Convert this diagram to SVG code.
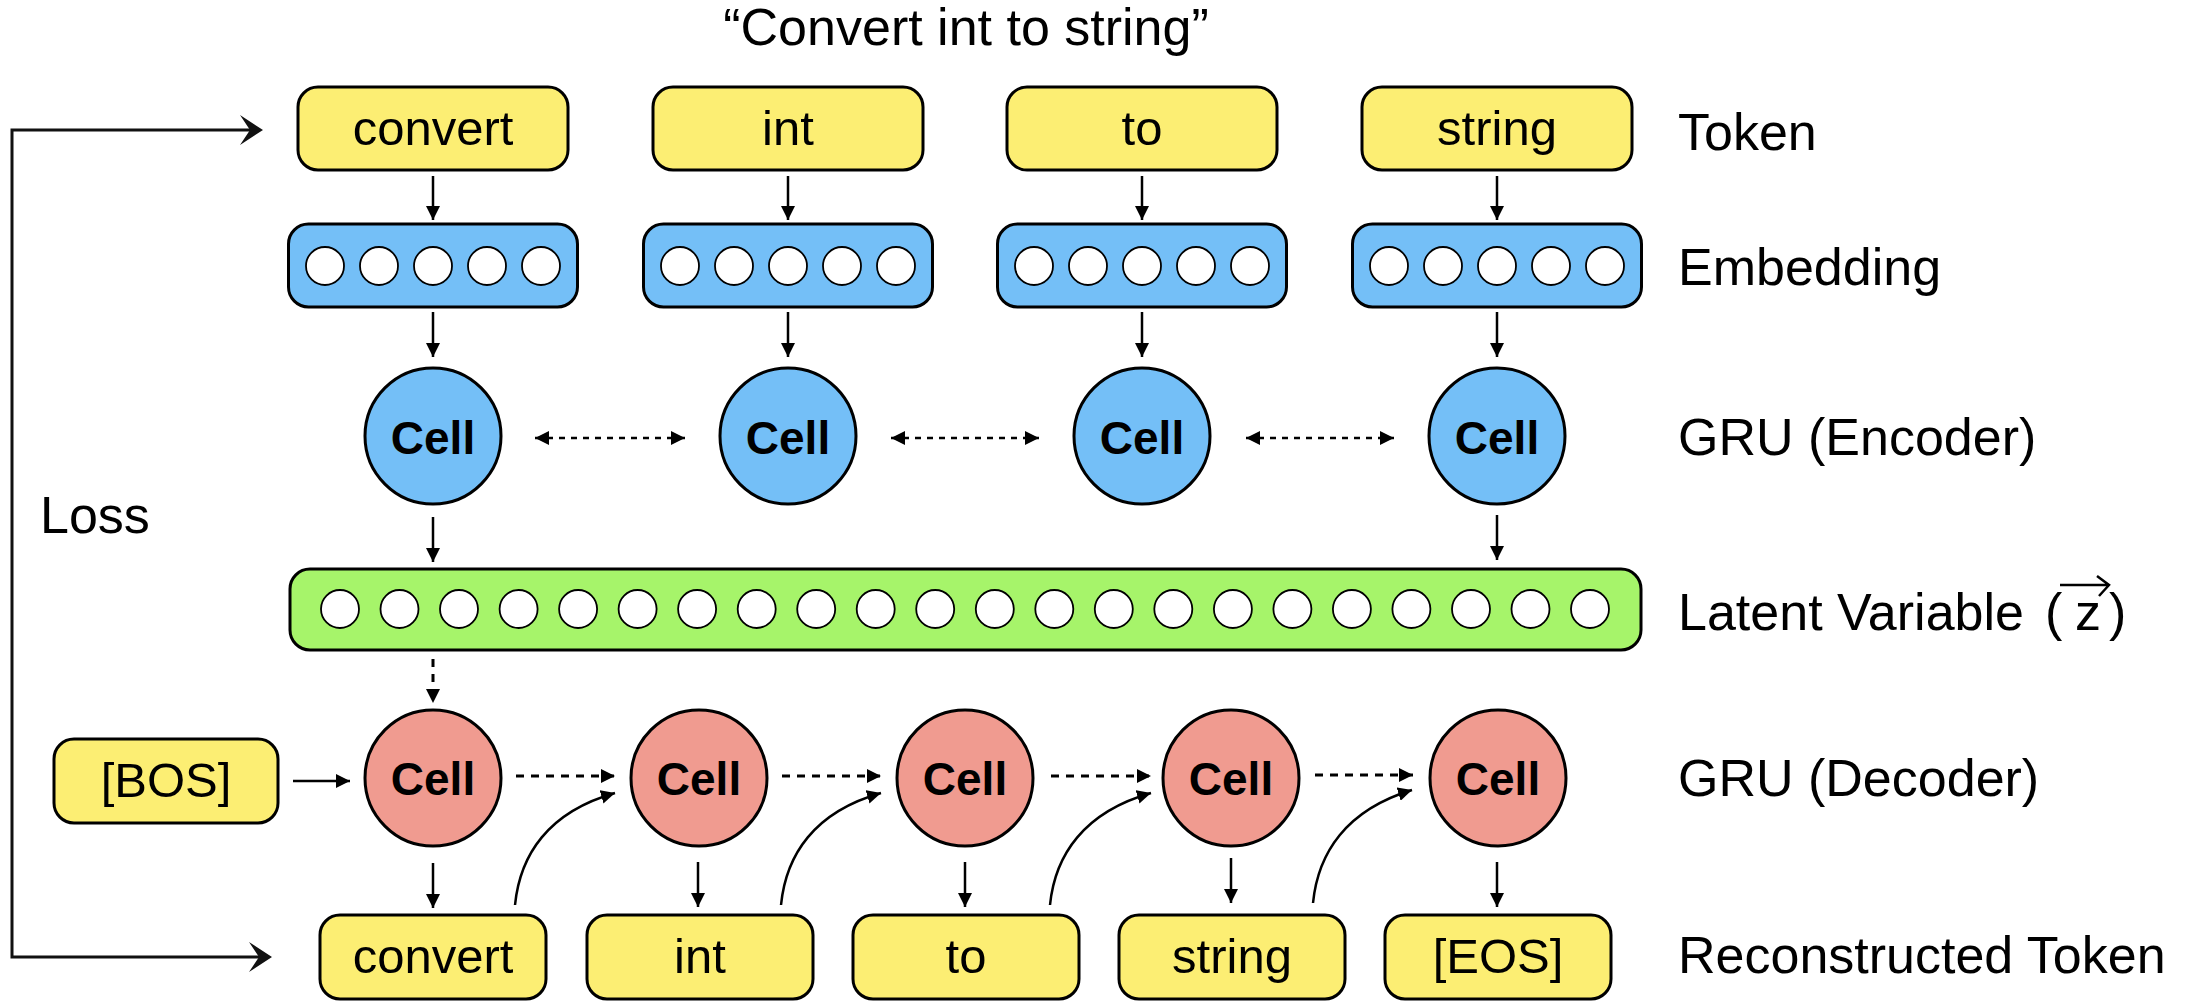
<svg xmlns="http://www.w3.org/2000/svg" width="2190" height="1008" viewBox="0 0 2190 1008">
<style>
text{font-family:"Liberation Sans",Arial,Helvetica,sans-serif;fill:#000}
.tok{fill:#FCEE73;stroke:#000;stroke-width:3}
.emb{fill:#74BFF7;stroke:#000;stroke-width:3}
.lat{fill:#A6F46A;stroke:#000;stroke-width:3}
.dec{fill:#F09B90;stroke:#000;stroke-width:3}
.dot{fill:#fff;stroke:#000;stroke-width:1.8}
.tt{font-size:49px;text-anchor:middle}
.cell{font-size:46px;font-weight:bold;text-anchor:middle}
.lbl{font-size:52px}
.a{fill:none;stroke:#000;stroke-width:2.5;marker-end:url(#ah)}
.d{fill:none;stroke:#000;stroke-width:3;stroke-dasharray:8 7;marker-end:url(#ah)}
.bd{fill:none;stroke:#000;stroke-width:2.5;stroke-dasharray:6 6;marker-end:url(#ah);marker-start:url(#ah)}
.loss{fill:none;stroke:#111;stroke-width:3}
</style>
<defs>
<marker id="ah" markerUnits="userSpaceOnUse" markerWidth="14" markerHeight="14" refX="14" refY="7" orient="auto-start-reverse">
<path d="M0,0 L14,7 L0,14 z" fill="#000"/>
</marker>
</defs>

<text class="lbl" x="966" y="45" text-anchor="middle" font-size="50">“Convert int to string”</text>

<g id="tokens">
<g id="tok-convert"><rect class="tok" x="298" y="87" width="270" height="83" rx="20"/><text class="tt" x="433" y="145">convert</text></g>
<g id="tok-int"><rect class="tok" x="653" y="87" width="270" height="83" rx="20"/><text class="tt" x="788" y="145">int</text></g>
<g id="tok-to"><rect class="tok" x="1007" y="87" width="270" height="83" rx="20"/><text class="tt" x="1142" y="145">to</text></g>
<g id="tok-string"><rect class="tok" x="1362" y="87" width="270" height="83" rx="20"/><text class="tt" x="1497" y="145">string</text></g>
</g>

<g id="embeddings">
<g id="emb1"><rect class="emb" x="288.5" y="224" width="289" height="83" rx="20"/>
<circle class="dot" cx="325" cy="266" r="19"/><circle class="dot" cx="379" cy="266" r="19"/><circle class="dot" cx="433" cy="266" r="19"/><circle class="dot" cx="487" cy="266" r="19"/><circle class="dot" cx="541" cy="266" r="19"/></g>
<g id="emb2"><rect class="emb" x="643.5" y="224" width="289" height="83" rx="20"/>
<circle class="dot" cx="680" cy="266" r="19"/><circle class="dot" cx="734" cy="266" r="19"/><circle class="dot" cx="788" cy="266" r="19"/><circle class="dot" cx="842" cy="266" r="19"/><circle class="dot" cx="896" cy="266" r="19"/></g>
<g id="emb3"><rect class="emb" x="997.5" y="224" width="289" height="83" rx="20"/>
<circle class="dot" cx="1034" cy="266" r="19"/><circle class="dot" cx="1088" cy="266" r="19"/><circle class="dot" cx="1142" cy="266" r="19"/><circle class="dot" cx="1196" cy="266" r="19"/><circle class="dot" cx="1250" cy="266" r="19"/></g>
<g id="emb4"><rect class="emb" x="1352.5" y="224" width="289" height="83" rx="20"/>
<circle class="dot" cx="1389" cy="266" r="19"/><circle class="dot" cx="1443" cy="266" r="19"/><circle class="dot" cx="1497" cy="266" r="19"/><circle class="dot" cx="1551" cy="266" r="19"/><circle class="dot" cx="1605" cy="266" r="19"/></g>
</g>

<g id="encoder">
<g id="enc1"><circle class="emb" cx="433" cy="436" r="68"/><text class="cell" x="433" y="454">Cell</text></g>
<g id="enc2"><circle class="emb" cx="788" cy="436" r="68"/><text class="cell" x="788" y="454">Cell</text></g>
<g id="enc3"><circle class="emb" cx="1142" cy="436" r="68"/><text class="cell" x="1142" y="454">Cell</text></g>
<g id="enc4"><circle class="emb" cx="1497" cy="436" r="68"/><text class="cell" x="1497" y="454">Cell</text></g>
</g>

<g id="latent">
<rect class="lat" x="290" y="569" width="1351" height="81" rx="20"/>
<circle class="dot" cx="340" cy="609" r="19"/><circle class="dot" cx="399.5" cy="609" r="19"/><circle class="dot" cx="459" cy="609" r="19"/><circle class="dot" cx="518.6" cy="609" r="19"/><circle class="dot" cx="578.1" cy="609" r="19"/><circle class="dot" cx="637.6" cy="609" r="19"/><circle class="dot" cx="697.1" cy="609" r="19"/><circle class="dot" cx="756.7" cy="609" r="19"/><circle class="dot" cx="816.2" cy="609" r="19"/><circle class="dot" cx="875.7" cy="609" r="19"/><circle class="dot" cx="935.2" cy="609" r="19"/><circle class="dot" cx="994.8" cy="609" r="19"/><circle class="dot" cx="1054.3" cy="609" r="19"/><circle class="dot" cx="1113.8" cy="609" r="19"/><circle class="dot" cx="1173.3" cy="609" r="19"/><circle class="dot" cx="1232.9" cy="609" r="19"/><circle class="dot" cx="1292.4" cy="609" r="19"/><circle class="dot" cx="1351.9" cy="609" r="19"/><circle class="dot" cx="1411.4" cy="609" r="19"/><circle class="dot" cx="1471" cy="609" r="19"/><circle class="dot" cx="1530.5" cy="609" r="19"/><circle class="dot" cx="1590" cy="609" r="19"/>
</g>

<g id="bos"><rect class="tok" x="54" y="739" width="224" height="84" rx="20"/><text class="tt" x="166" y="797">[BOS]</text></g>

<g id="decoder">
<g id="dec1"><circle class="dec" cx="433" cy="778" r="68"/><text class="cell" x="433" y="795">Cell</text></g>
<g id="dec2"><circle class="dec" cx="699" cy="778" r="68"/><text class="cell" x="699" y="795">Cell</text></g>
<g id="dec3"><circle class="dec" cx="965" cy="778" r="68"/><text class="cell" x="965" y="795">Cell</text></g>
<g id="dec4"><circle class="dec" cx="1231" cy="778" r="68"/><text class="cell" x="1231" y="795">Cell</text></g>
<g id="dec5"><circle class="dec" cx="1498" cy="778" r="68"/><text class="cell" x="1498" y="795">Cell</text></g>
</g>

<g id="reconstructed">
<g id="rec1"><rect class="tok" x="320" y="915" width="226" height="84" rx="20"/><text class="tt" x="433" y="973">convert</text></g>
<g id="rec2"><rect class="tok" x="587" y="915" width="226" height="84" rx="20"/><text class="tt" x="700" y="973">int</text></g>
<g id="rec3"><rect class="tok" x="853" y="915" width="226" height="84" rx="20"/><text class="tt" x="966" y="973">to</text></g>
<g id="rec4"><rect class="tok" x="1119" y="915" width="226" height="84" rx="20"/><text class="tt" x="1232" y="973">string</text></g>
<g id="rec5"><rect class="tok" x="1385" y="915" width="226" height="84" rx="20"/><text class="tt" x="1498" y="973">[EOS]</text></g>
</g>

<g id="labels">
<text class="lbl" x="1678" y="150">Token</text>
<text class="lbl" x="1678" y="285">Embedding</text>
<text class="lbl" x="1678" y="455">GRU (Encoder)</text>
<text class="lbl" x="1678" y="630">Latent Variable</text>
<text class="lbl" x="2045" y="630">(</text>
<text class="lbl" x="2088" y="630" text-anchor="middle">z</text>
<text class="lbl" x="2109" y="630">)</text>
<path d="M2060,585 L2108,585 M2097,576 L2109,585 L2099,596" fill="none" stroke="#000" stroke-width="2.5"/>
<text class="lbl" x="1678" y="796">GRU (Decoder)</text>
<text class="lbl" x="1678" y="973">Reconstructed Token</text>
<text class="lbl" x="40" y="533">Loss</text>
</g>

<g id="connectors">
<line class="a" x1="433" y1="176" x2="433" y2="220"/>
<line class="a" x1="788" y1="176" x2="788" y2="220"/>
<line class="a" x1="1142" y1="176" x2="1142" y2="220"/>
<line class="a" x1="1497" y1="176" x2="1497" y2="220"/>
<line class="a" x1="433" y1="312" x2="433" y2="357"/>
<line class="a" x1="788" y1="312" x2="788" y2="357"/>
<line class="a" x1="1142" y1="312" x2="1142" y2="357"/>
<line class="a" x1="1497" y1="312" x2="1497" y2="357"/>
<line class="bd" x1="535" y1="438" x2="685" y2="438"/>
<line class="bd" x1="891" y1="438" x2="1039" y2="438"/>
<line class="bd" x1="1246" y1="438" x2="1394" y2="438"/>
<line class="a" x1="433" y1="517" x2="433" y2="562"/>
<line class="a" x1="1497" y1="515" x2="1497" y2="560"/>
<line class="d" x1="433" y1="659" x2="433" y2="703"/>
<line class="a" x1="293" y1="781" x2="350" y2="781"/>
<line class="d" x1="516" y1="776" x2="615" y2="776"/>
<line class="d" x1="782" y1="776" x2="881" y2="776"/>
<line class="d" x1="1051" y1="776" x2="1151" y2="776"/>
<line class="d" x1="1315" y1="775" x2="1413" y2="775"/>
<path class="a" d="M515,905 C520,855 548,812 615,793"/>
<path class="a" d="M781,905 C786,855 814,812 881,793"/>
<path class="a" d="M1050,905 C1055,855 1084,812 1151,793"/>
<path class="a" d="M1313,903 C1318,853 1346,810 1412,790"/>
<line class="a" x1="433" y1="863" x2="433" y2="908"/>
<line class="a" x1="698" y1="862" x2="698" y2="907"/>
<line class="a" x1="965" y1="862" x2="965" y2="907"/>
<line class="a" x1="1231" y1="858" x2="1231" y2="903"/>
<line class="a" x1="1497" y1="862" x2="1497" y2="907"/>
<g id="loss-arrow">
<path class="loss" d="M252,130 L12,130 L12,957 L260,957"/>
<path d="M263,130 L240,115 L250,130 L240,145 z" fill="#111"/>
<path d="M272,957 L249,942 L259,957 L249,972 z" fill="#111"/>
</g>
</g>
</svg>
